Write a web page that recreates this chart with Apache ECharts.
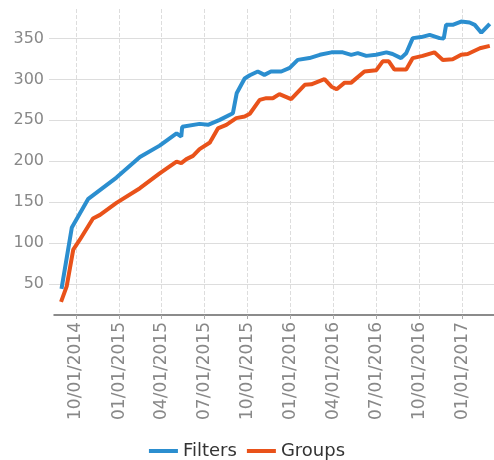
<!DOCTYPE html>
<html>
<head>
<meta charset="utf-8">
<script src="https://cdn.jsdelivr.net/npm/echarts@6/dist/echarts.min.js"></script>
<style>
  html, body { margin: 0; padding: 0; background: #fff; }
  #main { width: 494px; height: 460px; }
</style>
</head>
<body>
<div id="main"></div>
<script>
// data
var filtersDates = ['2014-08-31','2014-09-22','2014-10-27','2014-12-26','2015-02-14','2015-03-28','2015-05-03','2015-05-13','2015-05-15','2015-06-21','2015-07-09','2015-08-03','2015-08-31','2015-09-08','2015-09-25','2015-10-06','2015-10-23','2015-11-06','2015-11-20','2015-12-12','2015-12-30','2016-01-16','2016-02-10','2016-03-03','2016-03-28','2016-04-21','2016-05-09','2016-05-23','2016-06-10','2016-07-01','2016-07-23','2016-08-05','2016-08-23','2016-09-03','2016-09-17','2016-10-05','2016-10-23','2016-11-13','2016-11-22','2016-11-27','2016-12-11','2016-12-29','2017-01-16','2017-01-27','2017-02-10','2017-02-28'];
var filtersValues = [44,119,154,180,205,219,234,230,242,245.6,244.4,250.5,258.6,283,301,305,309.6,305.5,309.6,309.6,314,323.8,326,330,333,333,330,332,328.7,330,333,331,326,332,350.4,351.7,354.4,350.4,350,366.6,366.6,370.7,369.5,366.6,357,367.8];

var groupsDates = ['2014-08-30','2014-09-11','2014-09-25','2014-10-09','2014-11-06','2014-11-21','2014-12-26','2015-02-14','2015-03-28','2015-05-03','2015-05-13','2015-05-24','2015-06-07','2015-06-21','2015-07-13','2015-07-16','2015-07-30','2015-08-17','2015-09-07','2015-09-25','2015-10-06','2015-10-27','2015-11-10','2015-11-24','2015-12-08','2016-01-02','2016-01-31','2016-02-14','2016-03-13','2016-03-28','2016-04-08','2016-04-25','2016-05-09','2016-06-06','2016-07-01','2016-07-15','2016-07-28','2016-08-09','2016-09-03','2016-09-17','2016-10-08','2016-11-02','2016-11-20','2016-12-11','2016-12-29','2017-01-12','2017-02-07','2017-02-28'];
var groupsValues = [28,47,92,104,130,134.4,149,167,185,199.5,197.6,202.5,206.5,214.7,222.8,226,240,244.4,252.6,254.6,258,275,277,277,282,275.8,293.3,294,300.2,291,288,296,296,309.6,311,322,322,312,312,326,328.7,333,323.8,324.6,330,331,338,341];

var tickLabels = ['10/01/2014','01/01/2015','04/01/2015','07/01/2015','10/01/2015','01/01/2016','04/01/2016','07/01/2016','10/01/2016','01/01/2017'];
var yTicks = [50,100,150,200,250,300,350];

// dates as UTC day timestamps on a plain value axis
function fromIso(s) {
    var p = s.split('-');
    return Date.UTC(+p[0], +p[1] - 1, +p[2]);
}
function fromUs(s) {
    var p = s.split('/');
    return Date.UTC(+p[2], +p[0] - 1, +p[1]);
}
function pad(n) { return n < 10 ? '0' + n : '' + n; }
function zip(d, v) {
    var out = [];
    for (var i = 0; i < d.length; i++) out.push([fromIso(d[i]), v[i]]);
    return out;
}
var xTicks = tickLabels.map(fromUs);

var myChart = echarts.init(document.getElementById('main'));

option = {
    animation: false,
    grid: {
        left: 54,
        right: 0,
        top: 9,
        bottom: 145
    },
    legend: {
        top: 437,
        left: 'center',
        icon: 'rect',
        itemWidth: 29,
        itemHeight: 4,
        itemGap: 10,
        textStyle: { color: '#333', fontSize: 18, fontFamily: 'DejaVu Sans' },
        data: ['Filters', 'Groups']
    },
    xAxis: {
        type: 'value',
        min: Date.UTC(2014, 7, 15),
        max: Date.UTC(2017, 2, 9),
        axisLine: { lineStyle: { color: '#666', width: 1.5 } },
        axisTick: { show: true, length: 4, lineStyle: { color: '#aaa' }, customValues: xTicks },
        axisLabel: {
            rotate: 90,
            margin: 7,
            color: '#888',
            fontSize: 17,
            fontFamily: 'DejaVu Sans',
            customValues: xTicks,
            formatter: function (v) {
                var d = new Date(v);
                return pad(d.getUTCMonth() + 1) + '/' + pad(d.getUTCDate()) + '/' + d.getUTCFullYear();
            }
        },
        splitLine: { show: true, lineStyle: { color: '#ddd', type: 'dashed' } }
    },
    yAxis: {
        type: 'value',
        min: 12,
        max: 386,
        axisLine: { show: false },
        axisTick: { show: true, length: 5, lineStyle: { color: '#ddd' }, customValues: yTicks },
        axisLabel: {
            color: '#888',
            fontSize: 16,
            margin: 10,
            fontFamily: 'DejaVu Sans',
            customValues: yTicks
        },
        splitLine: { show: true, lineStyle: { color: '#ddd' } }
    },
    series: [
        {
            name: 'Filters',
            type: 'line',
            showSymbol: false,
            itemStyle: { color: '#2b8ecf' },
            lineStyle: { color: '#2b8ecf', width: 4 },
            data: zip(filtersDates, filtersValues)
        },
        {
            name: 'Groups',
            type: 'line',
            showSymbol: false,
            itemStyle: { color: '#e9521a' },
            lineStyle: { color: '#e9521a', width: 4 },
            data: zip(groupsDates, groupsValues)
        }
    ]
};

myChart.setOption(option);
</script>
</body>
</html>
